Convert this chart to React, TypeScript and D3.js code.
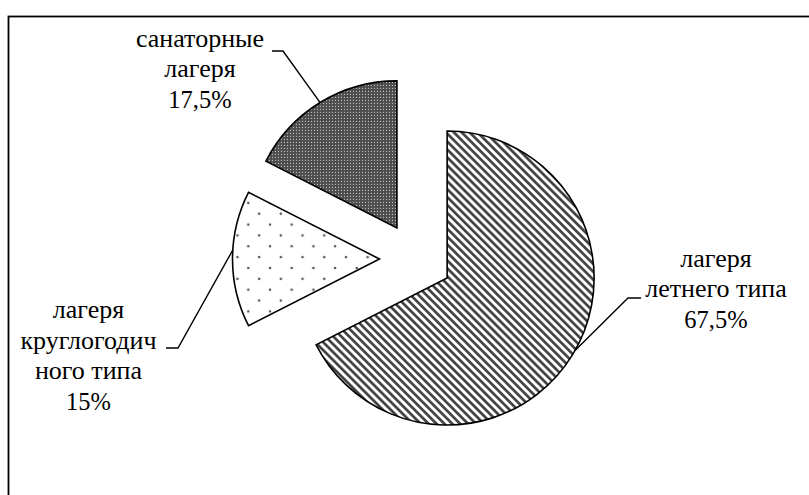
import React from 'react';
import * as d3 from 'd3';

// Доли типов лагерей, %
const categories = ['лагеря летнего типа', 'лагеря круглогодичного типа', 'санаторные лагеря'];
const shares = [67.5, 15, 17.5];
const labelLines = [
  ['лагеря', 'летнего типа', '67,5%'],
  ['лагеря', 'круглогодич', 'ного типа', '15%'],
  ['санаторные', 'лагеря', '17,5%'],
];
const patternIds = ['stripes', 'dots', 'checker'];

const width = 809;
const height = 495;
const center = { x: 416, y: 259 };
const radius = 147;
const explode = 36.5;
const wordSize = 26;
const numberSize = 24.5;
const lineGap = 30.5;

// label blocks: text centre x, first baseline, elbow of leader, side of horizontal tick
const labelLayout = [
  { cx: 716, y: 266.5, elbow: [628, 298], tick: 13, endShift: -2 },
  { cx: 88.5, y: 318, elbow: [178, 348], tick: -12, endShift: 3.5 },
  { cx: 200, y: 46.5, elbow: [283, 51], tick: -11, endShift: 0 },
];

export default function App() {
  const pie = d3.pie<number>().sort(null).value(d => d).startAngle(0).endAngle(2 * Math.PI);
  const arcs = pie(shares);
  const arc = d3.arc<d3.PieArcDatum<number>>().innerRadius(0).outerRadius(radius);

  const texts = labelLines.flatMap((lines, i) =>
    lines.map((t, j) => ({ t, x: labelLayout[i].cx, y: labelLayout[i].y + j * lineGap, key: `${i}-${j}` }))
  );

  return (
    <svg
      width={width}
      height={height}
      style={{ position: 'absolute', left: 0, top: 0, background: '#fff' }}
    >
      <defs>
        <pattern id="stripes" patternUnits="userSpaceOnUse" width={5.6} height={5.6} patternTransform="rotate(-45)">
          <rect width={5.6} height={5.6} fill="#fff" />
          <line x1={1.4} y1={0} x2={1.4} y2={5.6} stroke="#3a3a3a" strokeWidth={2.6} />
        </pattern>
        <pattern id="dots" patternUnits="userSpaceOnUse" width={21.7} height={21.7} x={-3} y={7}>
          <rect width={21.7} height={21.7} fill="#fff" />
          <circle cx={2} cy={2} r={1.3} fill="#555" />
          <circle cx={12.85} cy={12.85} r={1.3} fill="#555" />
        </pattern>
        <pattern id="checker" patternUnits="userSpaceOnUse" width={3} height={3}>
          <rect width={3} height={3} fill="#4d4d4d" />
          <rect x={1} y={1} width={1} height={1} fill="#d8d8d8" />
        </pattern>
      </defs>

      <rect x={8.5} y={16.5} width={900} height={600} fill="none" stroke="#000" strokeWidth={1.8} />

      {arcs.map((a, i) => {
        const mid = (a.startAngle + a.endAngle) / 2;
        const dx = Math.sin(mid) * explode;
        const dy = -Math.cos(mid) * explode;
        return (
          <g key={categories[i]} transform={`translate(${center.x + dx},${center.y + dy})`}>
            <path d={arc(a) || ''} fill={`url(#${patternIds[i]})`} stroke="#000" strokeWidth={1.6} />
          </g>
        );
      })}

      {arcs.map((a, i) => {
        const lay = labelLayout[i];
        const mid = (a.startAngle + a.endAngle) / 2;
        const ang = mid + (lay.endShift * Math.PI) / 180;
        const off = { x: Math.sin(mid) * explode, y: -Math.cos(mid) * explode };
        const px = center.x + off.x + Math.sin(ang) * radius;
        const py = center.y + off.y - Math.cos(ang) * radius;
        const [ex, ey] = lay.elbow;
        return (
          <polyline
            key={`leader-${i}`}
            points={`${px},${py} ${ex},${ey} ${ex + lay.tick},${ey}`}
            fill="none"
            stroke="#000"
            strokeWidth={1.4}
          />
        );
      })}

      {texts.map(d => (
        <text
          key={d.key}
          x={d.x}
          y={d.y}
          textAnchor="middle"
          fill="#000"
          fontFamily="Liberation Serif"
          fontSize={/\d/.test(d.t) ? numberSize : wordSize}
        >
          {d.t}
        </text>
      ))}
    </svg>
  );
}
